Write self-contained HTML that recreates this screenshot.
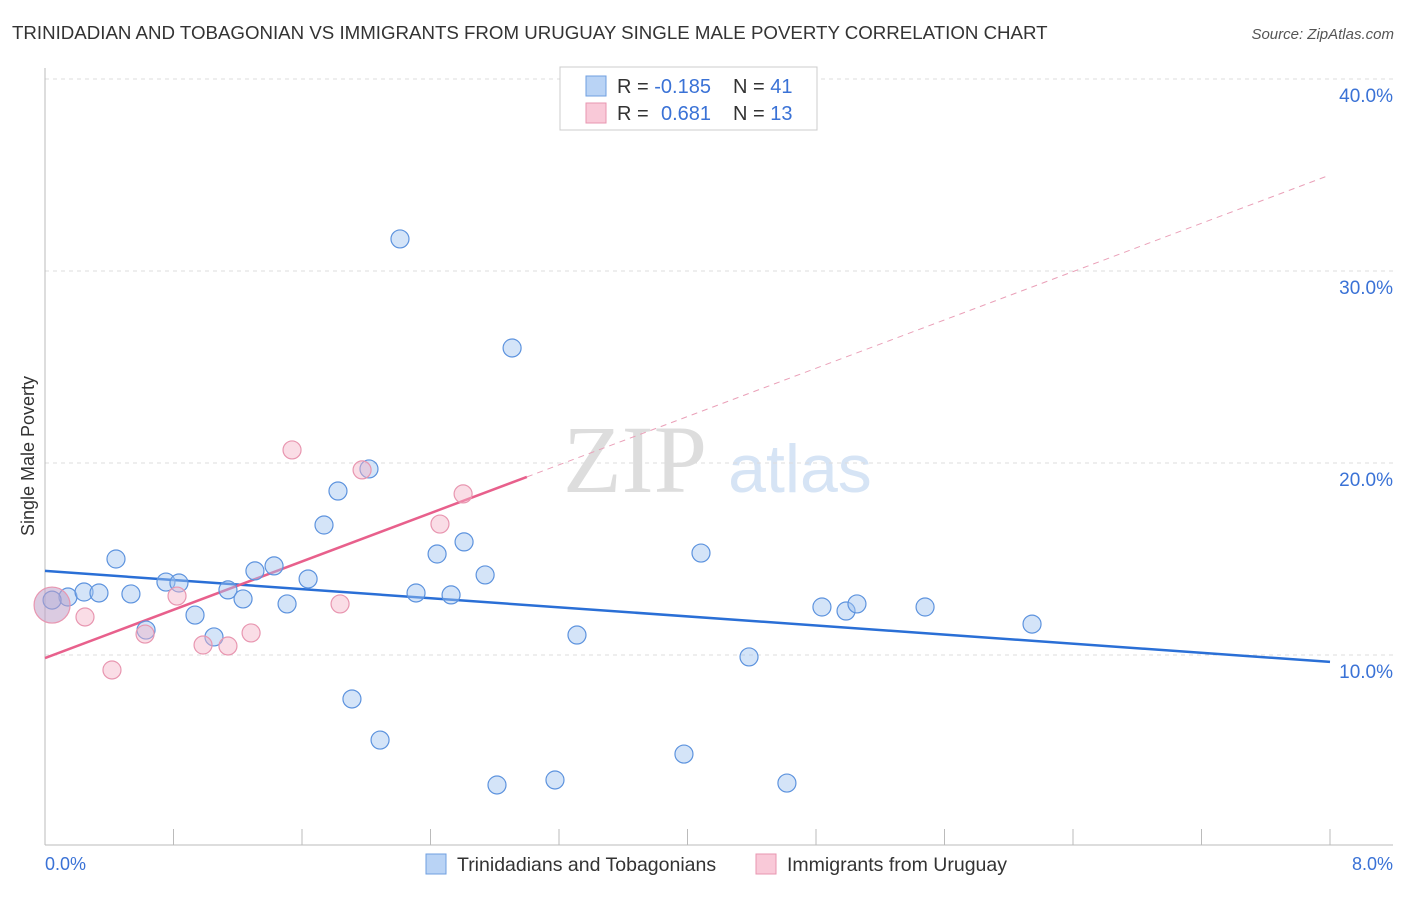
<!DOCTYPE html>
<html><head><meta charset="utf-8"><style>
body{margin:0;background:#fff;font-family:"Liberation Sans",sans-serif}
</style></head><body>
<svg width="1406" height="892" xmlns="http://www.w3.org/2000/svg" id="chart">
<text x="12" y="39" font-size="18.7" fill="#333">TRINIDADIAN AND TOBAGONIAN VS IMMIGRANTS FROM URUGUAY SINGLE MALE POVERTY CORRELATION CHART</text>
<text x="1394" y="39" font-size="15" fill="#555" text-anchor="end" font-style="italic">Source: ZipAtlas.com</text>
<text x="635" y="492" font-size="96" fill="#ddd" font-family="Liberation Serif,serif" text-anchor="middle">ZIP</text>
<text x="800" y="492" font-size="68" fill="#d6e4f5" text-anchor="middle">atlas</text>
<g id="grid"></g>
<line x1="45" y1="68" x2="45" y2="845" stroke="#bbb"/>
<line x1="45" y1="845" x2="1393" y2="845" stroke="#bbb"/>
<text transform="translate(34,456) rotate(-90)" font-size="18" fill="#333" text-anchor="middle">Single Male Poverty</text>
<text x="45" y="870" font-size="18" fill="#3a72d6">0.0%</text>
<text x="1393" y="870" font-size="18" fill="#3a72d6" text-anchor="end">8.0%</text>
<g id="lines"></g>
<g id="points"></g>
<g>
<rect x="560" y="67" width="257" height="63" fill="#fff" stroke="#ccc"/>
<rect x="586" y="76" width="20" height="20" fill="#b9d3f5" stroke="#6f9fe0"/>
<rect x="586" y="103" width="20" height="20" fill="#f9c9d8" stroke="#e896b0"/>
<text x="617" y="93" font-size="20" fill="#333">R = <tspan fill="#3a72d6">-0.185</tspan><tspan x="733">N = </tspan><tspan fill="#3a72d6">41</tspan></text>
<text x="617" y="120" font-size="20" fill="#333">R = <tspan x="661" fill="#3a72d6">0.681</tspan><tspan x="733">N = </tspan><tspan fill="#3a72d6">13</tspan></text>
</g>
<g>
<rect x="426" y="854" width="20" height="20" fill="#b9d3f5" stroke="#6f9fe0"/>
<text x="457" y="871" font-size="19.5" fill="#333">Trinidadians and Tobagonians</text>
<rect x="756" y="854" width="20" height="20" fill="#f9c9d8" stroke="#e896b0"/>
<text x="787" y="871" font-size="19.5" fill="#333">Immigrants from Uruguay</text>
</g>
</svg>
<script>
const blueX=[0.143,0.243,0.336,0.442,0.535,0.629,0.753,0.834,0.934,1.052,1.139,1.233,1.307,1.426,1.507,1.638,1.824,1.737,1.911,2.017,2.086,2.210,2.310,2.441,2.528,2.609,2.740,2.814,2.908,3.175,3.312,3.978,4.084,4.383,4.619,4.837,4.987,5.055,5.479,6.145,0.044];
const blueY=[13.02,13.28,13.23,15.0,13.18,11.30,13.80,13.75,12.08,10.94,13.39,12.92,14.38,14.64,12.66,13.96,18.54,16.77,7.71,19.69,5.57,31.67,13.23,15.26,13.13,15.89,14.17,3.23,25.99,3.49,11.04,4.84,15.31,9.90,3.33,12.50,12.29,12.66,12.50,11.61,12.86];
const pinkX=[0.044,0.249,0.417,0.623,0.822,0.984,1.139,1.283,1.538,1.837,1.974,2.459,2.603];
const pinkY=[12.60,11.98,9.22,11.09,13.07,10.52,10.47,11.15,20.68,12.66,19.64,16.82,18.39];
const yTicks=[10,20,30,40];
const xTicks=[0,0.8,1.6,2.4,3.2,4.0,4.8,5.6,6.4,7.2,8.0];
const blueTrend=[14.38,9.64];
const pinkTrend=[9.84,35.0];
const sx=v=>45+v*1285/8, sy=v=>847-v*19.2;
const NS="http://www.w3.org/2000/svg";
function mk(t,a,p){const e=document.createElementNS(NS,t);for(const k in a)e.setAttribute(k,a[k]);p.appendChild(e);return e;}
const g=document.getElementById('grid');
yTicks.forEach(v=>{
 const l=mk('line',{x1:45,x2:1393,y1:sy(v),y2:sy(v),stroke:'#ddd','stroke-dasharray':'4,4'},g);
 
 
 const t=mk('text',{x:1393,y:sy(v)+23,'font-size':19,fill:'#3a72d6','text-anchor':'end'},g);
 t.textContent=v.toFixed(1)+'%';
 
 
});
xTicks.forEach(v=>{
 const l=mk('line',{x1:sx(v),x2:sx(v),y1:829,y2:845,stroke:'#bbb'},g);
 
 
});
const L=document.getElementById('lines');
let b=mk('line',{x1:sx(0),y1:sy(blueTrend[0]),x2:sx(8),y2:sy(blueTrend[1]),stroke:'#2a6fd6','stroke-width':2.5},L);


const pAt=x=>pinkTrend[0]+(pinkTrend[1]-pinkTrend[0])*x/8;
let p1=mk('line',{x1:sx(0),y1:sy(pAt(0)),x2:sx(3),y2:sy(pAt(3)),stroke:'#e8608c','stroke-width':2.5},L);


let p2=mk('line',{x1:sx(3),y1:sy(pAt(3)),x2:sx(8),y2:sy(pAt(8)),stroke:'#eaa0b8','stroke-width':1,'stroke-dasharray':'6,5'},L);


const P=document.getElementById('points');
blueX.forEach((x,i)=>{
 const c=mk('circle',{cx:sx(x),cy:sy(blueY[i]),r:9,fill:'rgba(160,195,240,0.45)',stroke:'#5d93de','stroke-width':1.2},P);
 
 
});
pinkX.forEach((x,i)=>{
 const c=mk('circle',{cx:sx(x),cy:sy(pinkY[i]),r:i==0?18:9,fill:i==0?'rgba(190,160,200,0.55)':'rgba(245,180,200,0.45)',stroke:'#e896b0','stroke-width':1.2},P);
 
 
});
</script>
</body></html>
